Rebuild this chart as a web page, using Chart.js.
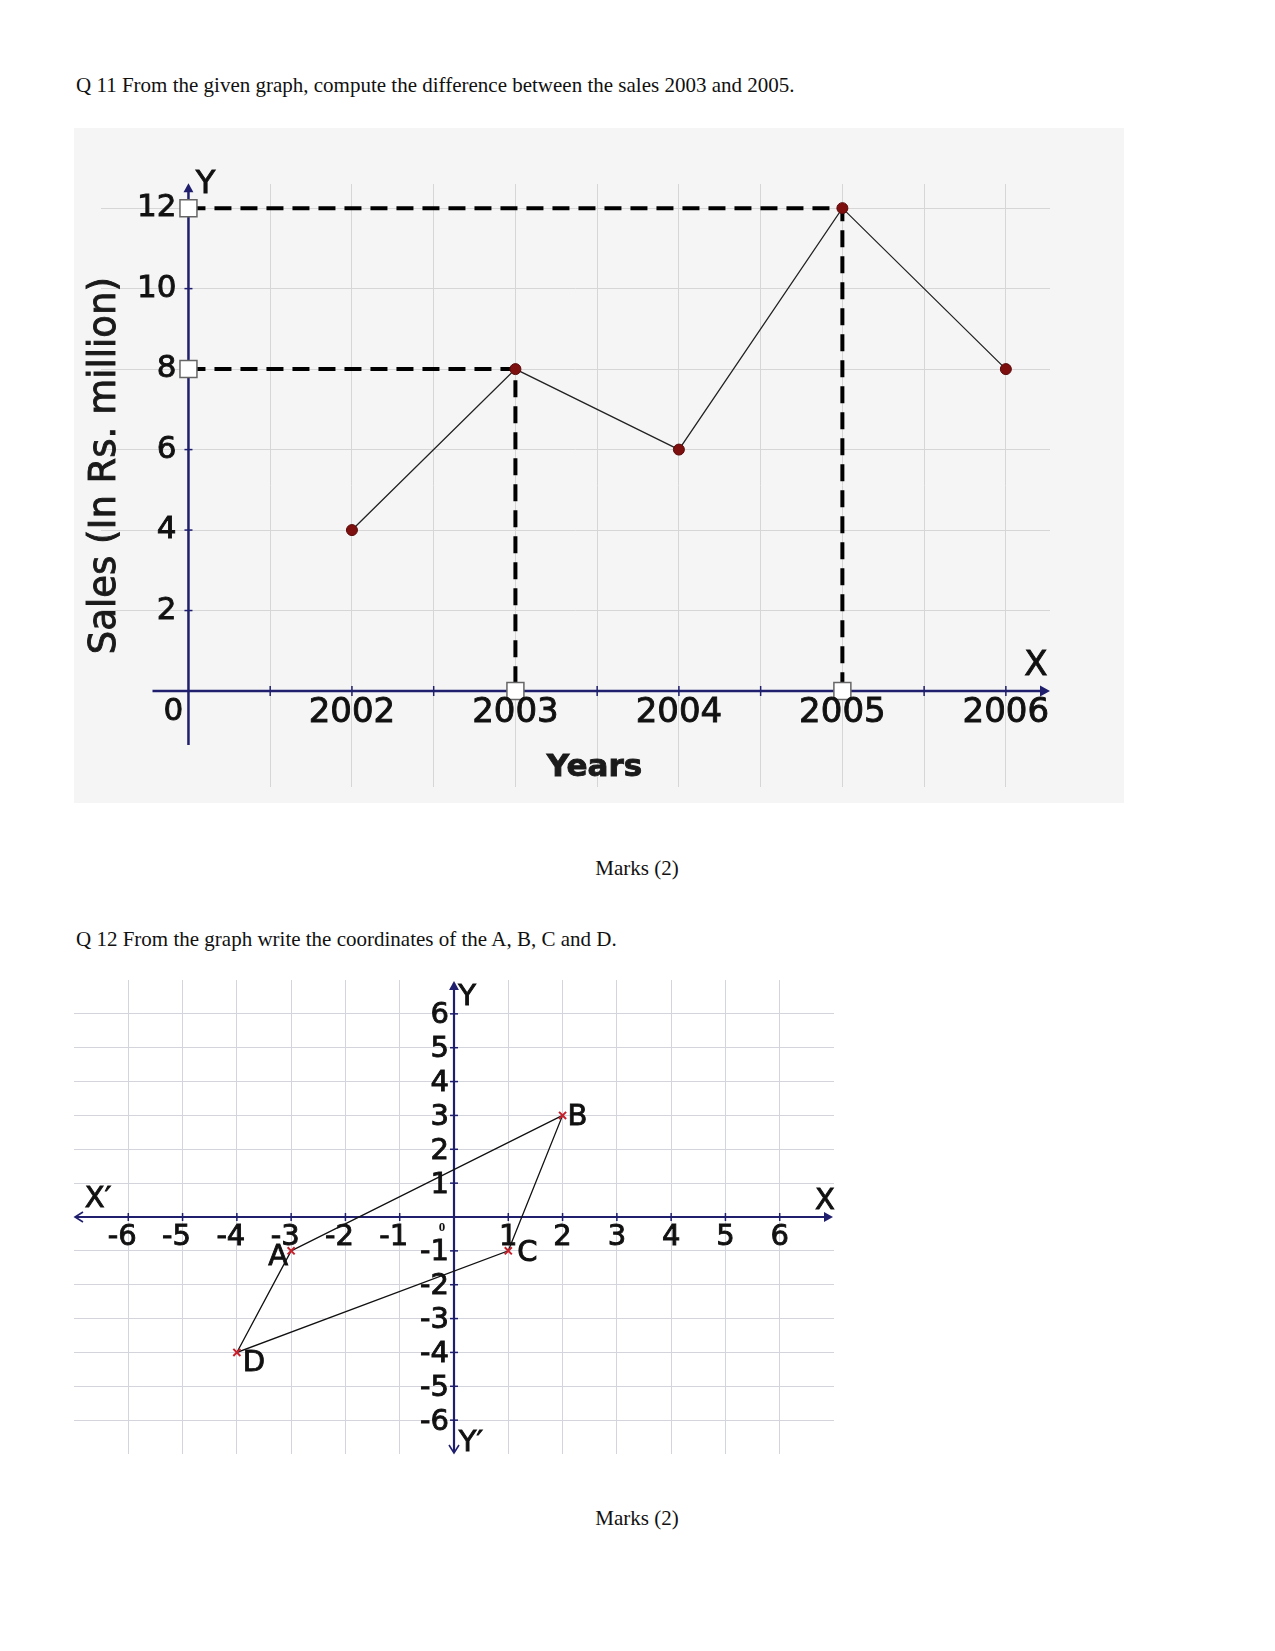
<!DOCTYPE html>
<html>
<head>
  <title>Q 11 / Q 12 graphs</title>
  <script src="https://cdn.jsdelivr.net/npm/chart.js"></script>
  <style>
    body {
      margin: 0;
      width: 1275px;
      height: 1651px;
      background-color: #fff;
      position: relative;
      font-family: "Liberation Serif", "Times New Roman", serif;
      color: #111;
    }

    .question {
      position: absolute;
      left: 76px;
      font-size: 21px;
      line-height: 21px;
      white-space: nowrap;
    }

    .marks {
      position: absolute;
      left: 537px;
      width: 200px;
      text-align: center;
      font-size: 21px;
      line-height: 21px;
    }

    #salesChart {
      position: absolute;
      left: 74px;
      top: 128px;
      background-color: #f5f5f5;
    }

    #coordChart {
      position: absolute;
      left: 60px;
      top: 960px;
    }
  </style>
</head>
<body>
  <div class="question" style="top: 75px;">Q 11 From the given graph, compute the difference between the sales 2003 and 2005.</div>
  <canvas id="salesChart" width="1050" height="675"></canvas>
  <div class="marks" style="top: 858px;">Marks (2)</div>

  <div class="question" style="top: 929px;">Q 12 From the graph write the coordinates of the A, B, C and D.</div>
  <canvas id="coordChart" width="800" height="510"></canvas>
  <div class="marks" style="top: 1508px;">Marks (2)</div>

  <script>
    // Q 11 data
    const years = [2002, 2003, 2004, 2005, 2006];
    const sales = [4, 8, 6, 12, 8];
    const yearLabels = ['2002', '2003', '2004', '2005', '2006'];
    const salesTicks = [2, 4, 6, 8, 10, 12];
    const markedYears = [2003, 2005];
    const originYear = 2001;

    // Q 12 data
    const pointNames = ['A', 'B', 'C', 'D'];
    const pointX = [-3, 2, 1, -4];
    const pointY = [-1, 3, -1, -4];
    const coordTicks = [-6, -5, -4, -3, -2, -1, 1, 2, 3, 4, 5, 6];

    const navy = '#1f1f6e';
    const ink = '#111';
    const sansFont = '"DejaVu Sans", Verdana, sans-serif';

    function drawLine(ctx, x1, y1, x2, y2) {
      ctx.beginPath();
      ctx.moveTo(x1, y1);
      ctx.lineTo(x2, y2);
      ctx.stroke();
    }

    // small filled arrow head, pointing along (dx, dy)
    function arrowHead(ctx, x, y, dx, dy, size) {
      const px = -dy, py = dx;
      ctx.beginPath();
      ctx.moveTo(x, y);
      ctx.lineTo(x - dx * size + px * size * 0.55, y - dy * size + py * size * 0.55);
      ctx.lineTo(x - dx * size - px * size * 0.55, y - dy * size - py * size * 0.55);
      ctx.closePath();
      ctx.fill();
    }

    // text with a thin outline so it looks as heavy as the scanned original
    function text(ctx, str, x, y, font, align) {
      ctx.font = font;
      ctx.textAlign = align || 'center';
      ctx.textBaseline = 'middle';
      ctx.fillText(str, x, y);
      ctx.lineWidth = 0.9;
      ctx.strokeStyle = ctx.fillStyle;
      ctx.strokeText(str, x, y);
    }

    // ---------- Q 11 : sales line graph ----------
    const salesAxes = {
      id: 'salesAxes',
      beforeDatasetsDraw(chart) {
        const { ctx, scales: { x, y } } = chart;
        const x0 = x.getPixelForValue(originYear);
        const y0 = y.getPixelForValue(0);
        ctx.save();
        ctx.strokeStyle = navy;
        ctx.fillStyle = navy;
        ctx.lineWidth = 2.5;
        // x axis with arrow
        drawLine(ctx, x.getPixelForValue(2000.78), y0, x.right - 4, y0);
        arrowHead(ctx, x.right, y0, 1, 0, 10);
        // y axis with arrow
        drawLine(ctx, x0, y.getPixelForValue(-1.34), x0, y.getPixelForValue(12.62) + 4);
        arrowHead(ctx, x0, y.getPixelForValue(12.62), 0, -1, 9);
        // tick marks
        ctx.lineWidth = 1.5;
        for (let v = originYear + 0.5; v <= years[years.length - 1]; v += 0.5) {
          const px = x.getPixelForValue(v);
          drawLine(ctx, px, y0 - 5, px, y0 + 5);
        }
        salesTicks.forEach(v => {
          const py = y.getPixelForValue(v);
          drawLine(ctx, x0 - 4, py, x0 + 4, py);
        });
        ctx.restore();
      },
      afterDraw(chart) {
        const { ctx, scales: { x, y } } = chart;
        const x0 = x.getPixelForValue(originYear);
        const y0 = y.getPixelForValue(0);
        ctx.save();
        ctx.fillStyle = ink;
        years.forEach((yr, i) => {
          text(ctx, yearLabels[i], x.getPixelForValue(yr), y0 + 22, '34px ' + sansFont);
        });
        salesTicks.forEach(v => {
          text(ctx, String(v), x0 - 12, y.getPixelForValue(v), '31px ' + sansFont, 'right');
        });
        text(ctx, '0', x0 - 15, y0 + 21, '31px ' + sansFont);
        text(ctx, 'Y', x0 + 17, y.getPixelForValue(12.6) + 1, '32px ' + sansFont);
        text(ctx, 'X', x.right - 14, y0 - 25, '34px ' + sansFont);
        ctx.fillStyle = '#1a1a1a';
        text(ctx, 'Years', (x.left + x.right) / 2 + 19, y0 + 77, 'bold 31px ' + sansFont);
        // rotated y title
        ctx.save();
        ctx.translate(x.left + 4, y.getPixelForValue(5.6));
        ctx.rotate(-Math.PI / 2);
        text(ctx, 'Sales (In Rs. million)', 0, 0, '37px ' + sansFont);
        ctx.restore();
        ctx.restore();
      }
    };

    function guideDataset(yr) {
      const value = sales[years.indexOf(yr)];
      return {
        data: [{ x: originYear, y: value }, { x: yr, y: value }, { x: yr, y: 0 }],
        borderColor: '#000',
        borderWidth: 4,
        borderDash: [17, 9],
        pointStyle: 'rect',
        pointRadius: [12, 0, 12],
        pointBackgroundColor: '#fff',
        pointBorderColor: '#666',
        pointBorderWidth: 1.5,
        tension: 0
      };
    }

    function createSalesChart() {
      const ctx = document.getElementById('salesChart').getContext('2d');
      const datasets = [{
        data: years.map((yr, i) => ({ x: yr, y: sales[i] })),
        borderColor: '#222',
        borderWidth: 1.3,
        pointRadius: 5.5,
        pointBackgroundColor: '#7d0f0f',
        pointBorderColor: '#5a0a0a',
        pointBorderWidth: 1,
        tension: 0
      }].concat(markedYears.map(guideDataset));

      new Chart(ctx, {
        type: 'line',
        data: { datasets: datasets },
        options: {
          responsive: false,
          animation: false,
          devicePixelRatio: 1,
          layout: { padding: { left: 27, right: 74, top: 56, bottom: 16 } },
          plugins: { legend: { display: false }, tooltip: { enabled: false } },
          scales: {
            x: {
              type: 'linear',
              min: 2000.465,
              max: 2006.27,
              afterBuildTicks: axis => {
                const ticks = [];
                for (let v = originYear + 0.5; v <= years[years.length - 1]; v += 0.5) ticks.push({ value: v });
                axis.ticks = ticks;
              },
              ticks: { display: false },
              border: { display: false },
              grid: { color: '#d6d6d6', lineWidth: 1, drawTicks: false }
            },
            y: {
              type: 'linear',
              min: -2.385,
              max: 12.6,
              afterBuildTicks: axis => {
                axis.ticks = salesTicks.map(v => ({ value: v }));
              },
              ticks: { display: false },
              border: { display: false },
              grid: { color: '#d6d6d6', lineWidth: 1, drawTicks: false }
            }
          }
        },
        plugins: [salesAxes]
      });
    }

    // ---------- Q 12 : coordinate plane ----------
    const coordAxes = {
      id: 'coordAxes',
      beforeDatasetsDraw(chart) {
        const { ctx, scales: { x, y } } = chart;
        const x0 = x.getPixelForValue(0);
        const y0 = y.getPixelForValue(0);
        ctx.save();
        ctx.strokeStyle = navy;
        ctx.fillStyle = navy;
        ctx.lineWidth = 2.2;
        drawLine(ctx, x.left + 2, y0, x.right - 3, y0);
        drawLine(ctx, x0, y.top + 3, x0, y.bottom - 2);
        arrowHead(ctx, x.right - 1, y0, 1, 0, 9);
        arrowHead(ctx, x0, y.top + 1, 0, -1, 9);
        // open arrow ends at X' and Y'
        ctx.lineWidth = 1.6;
        ctx.beginPath();
        ctx.moveTo(x.left + 9, y0 - 5); ctx.lineTo(x.left + 1, y0); ctx.lineTo(x.left + 9, y0 + 5);
        ctx.moveTo(x0 - 5, y.bottom - 9); ctx.lineTo(x0, y.bottom - 1); ctx.lineTo(x0 + 5, y.bottom - 9);
        ctx.stroke();
        ctx.lineWidth = 1.5;
        coordTicks.forEach(v => {
          const px = x.getPixelForValue(v);
          const py = y.getPixelForValue(v);
          drawLine(ctx, px, y0 - 4, px, y0 + 4);
          drawLine(ctx, x0 - 4, py, x0 + 4, py);
        });
        ctx.restore();
      },
      afterDraw(chart) {
        const { ctx, scales: { x, y } } = chart;
        const x0 = x.getPixelForValue(0);
        const y0 = y.getPixelForValue(0);
        ctx.save();
        ctx.fillStyle = ink;
        coordTicks.forEach(v => {
          const shift = v < 0 ? -6 : 0;
          text(ctx, String(v), x.getPixelForValue(v) + shift, y0 + 20, '29px ' + sansFont);
          text(ctx, String(v), x0 - 5, y.getPixelForValue(v) + 2, '29px ' + sansFont, 'right');
        });
        ctx.font = 'bold 13px "Liberation Serif", serif';
        ctx.textAlign = 'center';
        ctx.fillText('0', x0 - 12, y0 + 11);
        text(ctx, 'X\u2032', x.left + 24, y0 - 18, '29px ' + sansFont);
        text(ctx, 'X', x.right - 9, y0 - 16, '29px ' + sansFont);
        text(ctx, 'Y', x0 + 13, y.top + 17, '29px ' + sansFont);
        text(ctx, 'Y\u2032', x0 + 17, y.bottom - 11, '29px ' + sansFont);
        // vertex names beside the crosses
        const offsets = { A: [-13, 7], B: [15, 2], C: [19, 3], D: [17, 11] };
        const meta = chart.getDatasetMeta(0);
        pointNames.forEach((name, i) => {
          const pt = meta.data[i];
          text(ctx, name, pt.x + offsets[name][0], pt.y + offsets[name][1], '29px ' + sansFont);
        });
        ctx.restore();
      }
    };

    function createCoordChart() {
      const ctx = document.getElementById('coordChart').getContext('2d');
      const shape = pointNames.map((_, i) => ({ x: pointX[i], y: pointY[i] }));
      shape.push({ x: pointX[0], y: pointY[0] });

      new Chart(ctx, {
        type: 'line',
        data: {
          datasets: [{
            data: shape,
            borderColor: '#111',
            borderWidth: 1.3,
            pointStyle: 'crossRot',
            pointRadius: shape.map((_, i) => (i < pointNames.length ? 5 : 0)),
            pointBorderColor: '#c8202a',
            pointBorderWidth: 2,
            tension: 0
          }]
        },
        options: {
          responsive: false,
          animation: false,
          devicePixelRatio: 1,
          layout: { padding: { left: 14, right: 26, top: 20, bottom: 16 } },
          plugins: { legend: { display: false }, tooltip: { enabled: false } },
          scales: {
            x: {
              type: 'linear',
              min: -7,
              max: 7,
              afterBuildTicks: axis => { axis.ticks = coordTicks.map(v => ({ value: v })); },
              ticks: { display: false },
              border: { display: false },
              grid: { color: '#d4d4dc', lineWidth: 1, drawTicks: false }
            },
            y: {
              type: 'linear',
              min: -7,
              max: 7,
              afterBuildTicks: axis => { axis.ticks = coordTicks.map(v => ({ value: v })); },
              ticks: { display: false },
              border: { display: false },
              grid: { color: '#d4d4dc', lineWidth: 1, drawTicks: false }
            }
          }
        },
        plugins: [coordAxes]
      });
    }

    window.onload = function() {
      createSalesChart();
      createCoordChart();
    };
  </script>
</body>
</html>
